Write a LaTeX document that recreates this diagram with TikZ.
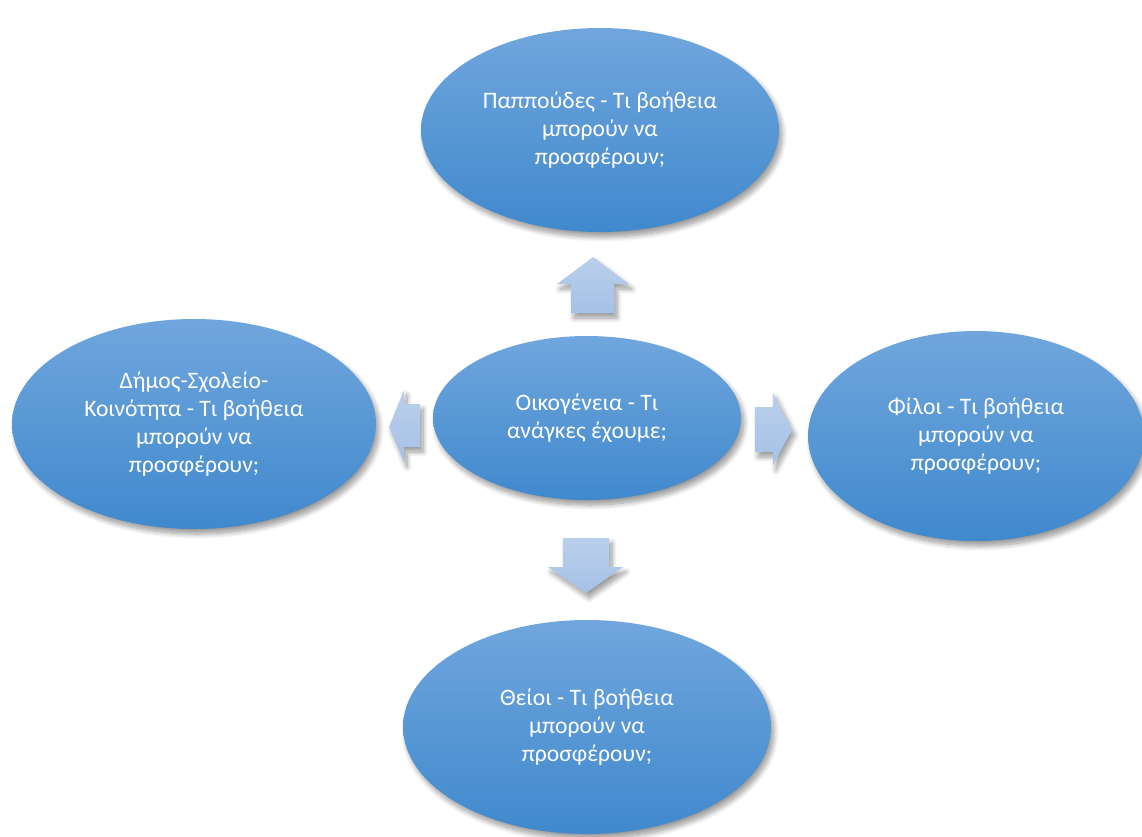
\documentclass[tikz,border=0pt]{standalone}
\usepackage{fontspec}
\setmainfont{Carlito}
\usetikzlibrary{shapes.geometric,shadows.blur}
\definecolor{bubtop}{RGB}{112,166,221}
\definecolor{bubbot}{RGB}{64,137,205}
\definecolor{arrtop}{RGB}{186,207,236}
\definecolor{arrbot}{RGB}{166,193,230}
\begin{document}
\begin{tikzpicture}[x=1pt,y=-1pt,
  softshadow/.style={blur shadow={shadow xshift=3pt, shadow yshift=-5pt, shadow blur steps=10, shadow opacity=40, shadow blur radius=5pt}},
  bub/.style={ellipse, inner sep=0pt, top color=bubtop, bottom color=bubbot, draw=none, text=white, align=center, font=\fontsize{23.6}{28}\selectfont, softshadow},
  blk/.style={top color=arrtop, bottom color=arrbot, draw=none, softshadow}]
\useasboundingbox (0,0) rectangle (1142,836);
\node[bub, minimum width=358pt, minimum height=204pt] (top) at (600,130) {\raisebox{2pt}{\parbox{240pt}{\centering Παππούδες - Τι βοήθεια\\μπορούν να\\προσφέρουν;}}};
\node[bub, minimum width=364pt, minimum height=210pt] (left) at (194,424) {\raisebox{-3pt}{\parbox{240pt}{\centering Δήμος-Σχολείο-\\Κοινότητα - Τι βοήθεια\\μπορούν να\\προσφέρουν;}}};
\node[bub, minimum width=336pt, minimum height=210pt] (right) at (976,436) {Φίλοι - Τι βοήθεια\\μπορούν να\\προσφέρουν;};
\node[bub, minimum width=368pt, minimum height=214pt] (bot) at (587,727) {\raisebox{-2pt}{\parbox{240pt}{\centering Θείοι - Τι βοήθεια\\μπορούν να\\προσφέρουν;}}};
\node[bub, minimum width=308pt, minimum height=164pt] (ctr) at (587,418) {\raisebox{-12pt}{\parbox{200pt}{\centering Οικογένεια - Τι\\ανάγκες έχουμε;}}};
% block arrows
\path[blk] (593,257) -- (629,284) -- (614,284) -- (614,313) -- (571,313) -- (571,284) -- (557,284) -- cycle;
\path[blk] (389,427) -- (404,390) -- (404,404) -- (420,404) -- (420,447) -- (404,447) -- (404,462) -- cycle;
\path[blk] (792,430) -- (773,465) -- (773,452) -- (755,452) -- (755,407) -- (773,407) -- (773,393) -- cycle;
\path[blk] (586,593) -- (548,567) -- (563,567) -- (563,538) -- (609,538) -- (609,567) -- (623,567) -- cycle;
\end{tikzpicture}
\end{document}
